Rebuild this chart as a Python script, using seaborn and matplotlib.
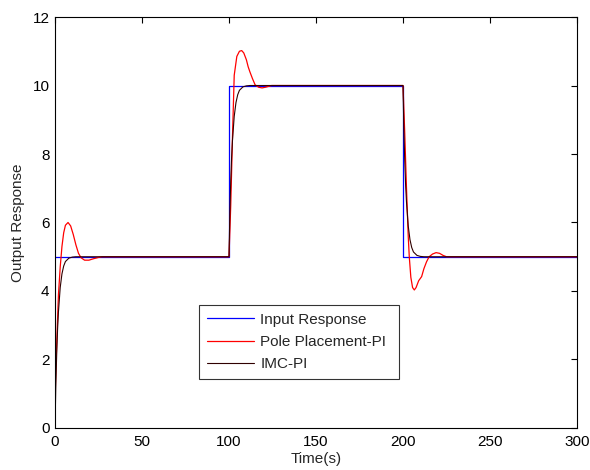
import numpy as np
import seaborn as sns
import pandas as pd
import matplotlib.pyplot as plt

# input step signal
t_in = [0, 100, 100, 200, 200, 300]
v_in = [5, 5, 10, 10, 5, 5]

# pole placement PI response
t_pp = [0, 1, 2, 3, 4, 5, 6, 7.5, 9, 10.5, 12, 13.5, 15, 17, 19.5, 22, 25, 27,
        100, 101, 102, 103, 104.5, 106, 107.3, 108.5, 110, 111, 112, 113.5, 115,
        117, 119, 121, 124.5,
        200, 201, 202, 203, 203.6, 204.5, 205.5, 206.5, 207.5, 209, 210.7, 212,
        213.5, 215, 217, 219, 221, 223, 225, 300]
v_pp = [0.8, 2.5, 3.9, 4.7, 5.3, 5.7, 5.92, 6.0, 5.9, 5.65, 5.35, 5.1, 4.97, 4.9, 4.9, 4.94, 4.98, 5.0,
        5.0, 6.5, 8.5, 10.3, 10.85, 11.0, 11.02, 10.95, 10.75, 10.55, 10.4, 10.2, 10.02,
        9.95, 9.93, 9.95, 10.0,
        10.0, 8.6, 7.0, 5.6, 5.0, 4.4, 4.1, 4.03, 4.1, 4.3, 4.42, 4.65,
        4.85, 5.0, 5.08, 5.12, 5.1, 5.04, 5.0, 5.0]

# IMC PI response
t_imc = [0, 0.5, 1, 1.5, 2, 3, 4, 5, 6, 8, 10, 12,
         100, 100.5, 101, 101.5, 102, 103, 104, 105, 106, 108, 110, 112,
         200, 200.5, 201, 201.5, 202, 203, 204, 205, 206, 208, 210, 212, 300]
v_imc = [0, 1.3, 2.2, 2.9, 3.4, 4.1, 4.5, 4.73, 4.86, 4.96, 4.99, 5.0,
         5.0, 6.3, 7.2, 7.9, 8.4, 9.1, 9.5, 9.73, 9.86, 9.96, 9.99, 10.0,
         10.0, 8.7, 7.8, 7.1, 6.6, 5.9, 5.5, 5.27, 5.14, 5.04, 5.01, 5.0, 5.0]

sns.set_style("white")
plt.rcParams['font.family'] = ['Liberation Sans', 'DejaVu Sans']
plt.rcParams['font.size'] = 11

fig = plt.figure(figsize=(5.9, 4.7), dpi=100)
ax = fig.add_axes([0.0932, 0.0894, 0.8848, 0.8744])

df_in = pd.DataFrame({"t": t_in, "v": v_in})
df_pp = pd.DataFrame({"t": t_pp, "v": v_pp})
df_imc = pd.DataFrame({"t": t_imc, "v": v_imc})

opts = dict(x="t", y="v", sort=False, estimator=None, errorbar=None, ax=ax)
sns.lineplot(data=df_in, color="blue", lw=0.9, label="Input Response", **opts)
sns.lineplot(data=df_pp, color="red", lw=0.9, label="Pole Placement-PI", **opts)
sns.lineplot(data=df_imc, color="#300000", lw=0.8, label="IMC-PI", **opts)

ax.set_xlim(0, 300)
ax.set_ylim(0, 12)
ax.set_xticks(range(0, 301, 50))
ax.set_yticks(range(0, 13, 2))
ax.set_xlabel("Time(s)", labelpad=2)
ax.set_ylabel("Output Response", labelpad=5)
ax.tick_params(direction="in", top=True, right=True, length=4, width=0.8,
               labelsize=11, color="black", labelcolor="black")
ax.tick_params(axis="x", pad=5)
ax.tick_params(axis="y", pad=4)
for s in ax.spines.values():
    s.set_color("black")
    s.set_linewidth(0.8)

leg = ax.legend(loc="lower left", bbox_to_anchor=(0.276, 0.119, 0.383, 0.18),
                mode="expand", frameon=True, fancybox=False, borderaxespad=0,
                handlelength=3.1, handletextpad=0.4, fontsize=11,
                labelspacing=0.55, borderpad=0.5)
leg.get_frame().set_edgecolor("black")
leg.get_frame().set_linewidth(0.8)

fig.savefig("out.png", dpi=100)
